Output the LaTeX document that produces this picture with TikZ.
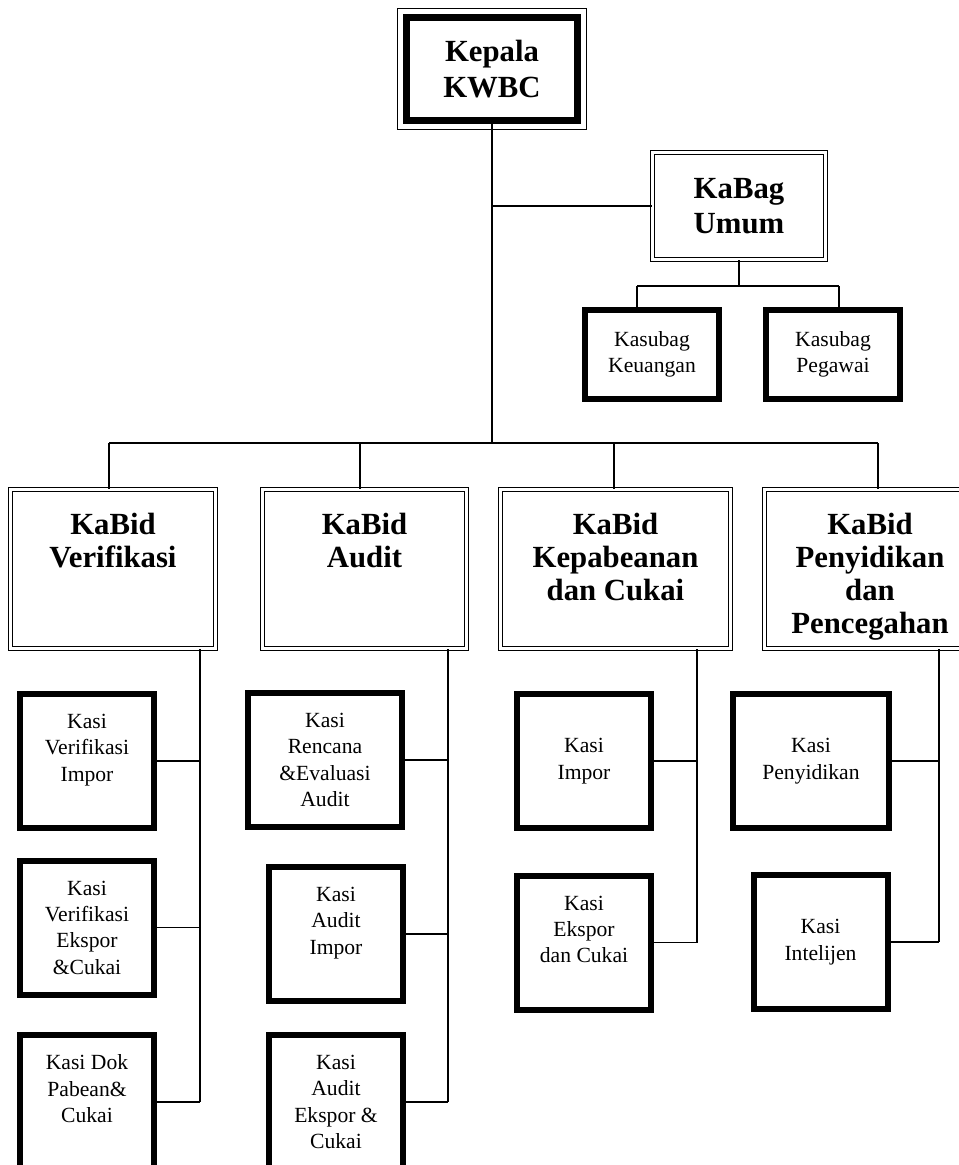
\documentclass[tikz,border=0pt]{standalone}
\usepackage{fontspec}
\setmainfont{Liberation Serif}
\usetikzlibrary{positioning, calc}

\begin{document}
\begin{tikzpicture}[
    garis/.style={line width=0.85pt},
    ganda/.style={draw, double, double distance=1.2pt, line width=0.75pt, inner sep=0pt},
    kepala/.style={draw, line width=0.14cm, minimum width=3.42cm, minimum height=2.06cm, inner sep=0pt, align=center, font=\fontsize{17.5}{20}\selectfont\bfseries},
    kabag/.style={ganda, minimum width=3.46cm, minimum height=2.14cm, align=center, font=\fontsize{17.5}{20}\selectfont\bfseries},
    kabid/.style={ganda, minimum height=3.18cm},
    judul/.style={anchor=north, inner sep=0pt, align=center, font=\fontsize{17.5}{18.8}\selectfont\bfseries},
    kasi/.style={draw, line width=0.12cm, minimum width=2.68cm, minimum height=2.68cm, inner sep=0pt, align=center, font=\fontsize{12.3}{15}\selectfont},
]
    \useasboundingbox (0,0) rectangle (19.18,-23.3);
    \clip (0,0) rectangle (19.18,-23.3);

    % pimpinan
    \node[kepala] (kepala) at (9.84, -1.38) {Kepala\\KWBC};
    \draw[garis] ([shift={(-0.11,0.11)}]kepala.north west) rectangle ([shift={(0.11,-0.11)}]kepala.south east);

    \node[kabag] (kabag) at (14.78, -4.12) {KaBag\\Umum};
    \node[kasi, minimum height=1.78cm] (keuangan) at (13.04, -7.09) {Kasubag\\Keuangan};
    \node[kasi, minimum height=1.78cm] (pegawai) at (16.66, -7.09) {Kasubag\\Pegawai};

    % bidang
    \node[kabid, minimum width=4.1cm] (verifikasi) at (2.26, -11.38) {};
    \node[kabid, minimum width=4.08cm] (audit) at (7.29, -11.38) {};
    \node[kabid, minimum width=4.6cm] (kepabeanan) at (12.31, -11.38) {};
    \node[kabid, minimum width=4.22cm] (penyidikan) at (17.4, -11.38) {};
    \node[judul] (verifikasi-t) at ([yshift=-0.48cm]verifikasi.north) {KaBid\\Verifikasi};
    \node[judul] (audit-t) at ([yshift=-0.48cm]audit.north) {KaBid\\Audit};
    \node[judul] (kepabeanan-t) at ([yshift=-0.48cm]kepabeanan.north) {KaBid\\Kepabeanan\\dan Cukai};
    \node[judul] (penyidikan-t) at ([yshift=-0.48cm]penyidikan.north) {KaBid\\Penyidikan\\dan\\Pencegahan};

    % seksi
    \node[kasi] (kver1) at (1.74, -15.22) {Kasi\\Verifikasi\\Impor\\\mbox{}};
    \node[kasi] (kver2) at (1.74, -18.55) {Kasi\\Verifikasi\\Ekspor\\\&Cukai};
    \node[kasi] (kver3) at (1.74, -22.04) {Kasi Dok\\Pabean\&\\Cukai\\\mbox{}};
    \node[kasi, minimum width=3.08cm] (kren) at (6.5, -15.2) {Kasi\\Rencana\\\&Evaluasi\\Audit};
    \node[kasi] (kaud1) at (6.72, -18.68) {Kasi\\Audit\\Impor\\\mbox{}};
    \node[kasi] (kaud2) at (6.72, -22.04) {Kasi\\Audit\\Ekspor \&\\Cukai};
    \node[kasi] (kimp) at (11.68, -15.22) {Kasi\\Impor};
    \node[kasi] (keks) at (11.68, -18.85) {Kasi\\Ekspor\\dan Cukai\\\mbox{}};
    \node[kasi, minimum width=3.12cm] (kpen) at (16.22, -15.22) {Kasi\\Penyidikan};
    \node[kasi] (kint) at (16.41, -18.84) {Kasi\\Intelijen};

    % garis struktur
    \coordinate (bus) at (9.84, -8.86);
    \coordinate (d1) at (2.18, -8.86);
    \coordinate (d2) at (7.2, -8.86);
    \coordinate (d3) at (12.28, -8.86);
    \coordinate (d4) at (17.56, -8.86);
    \coordinate (sb1) at (12.74, -5.72);
    \coordinate (sb2) at (16.78, -5.72);
    \coordinate (v1) at (4.0, -13);
    \coordinate (v2) at (8.96, -13);
    \coordinate (v3) at (13.94, -13);
    \coordinate (v4) at (18.78, -13);

    \draw[garis] (kepala.south) -- (bus);
    \draw[garis] (kepala.south |- kabag.west) -- (kabag.west);
    \draw[garis] (kabag.south) -- (kabag.south |- sb1);
    \draw[garis] (sb1) -- (sb2);
    \draw[garis] (sb1) -- (sb1 |- keuangan.north);
    \draw[garis] (sb2) -- (sb2 |- pegawai.north);

    \draw[garis] (d1) -- (d4);
    \foreach \d/\b in {d1/verifikasi, d2/audit, d3/kepabeanan, d4/penyidikan}
        \draw[garis] (\d) -- (\d |- \b.north);

    \draw[garis] (verifikasi.south -| v1) -- (v1 |- kver3.east);
    \draw[garis] (audit.south -| v2) -- (v2 |- kaud2.east);
    \draw[garis] (kepabeanan.south -| v3) -- (v3 |- keks.east);
    \draw[garis] (penyidikan.south -| v4) -- (v4 |- kint.east);
    \foreach \k in {kver1, kver2, kver3}
        \draw[garis] (\k.east) -- (\k.east -| v1);
    \foreach \k in {kren, kaud1, kaud2}
        \draw[garis] (\k.east) -- (\k.east -| v2);
    \foreach \k in {kimp, keks}
        \draw[garis] (\k.east) -- (\k.east -| v3);
    \foreach \k in {kpen, kint}
        \draw[garis] (\k.east) -- (\k.east -| v4);
\end{tikzpicture}
\end{document}
